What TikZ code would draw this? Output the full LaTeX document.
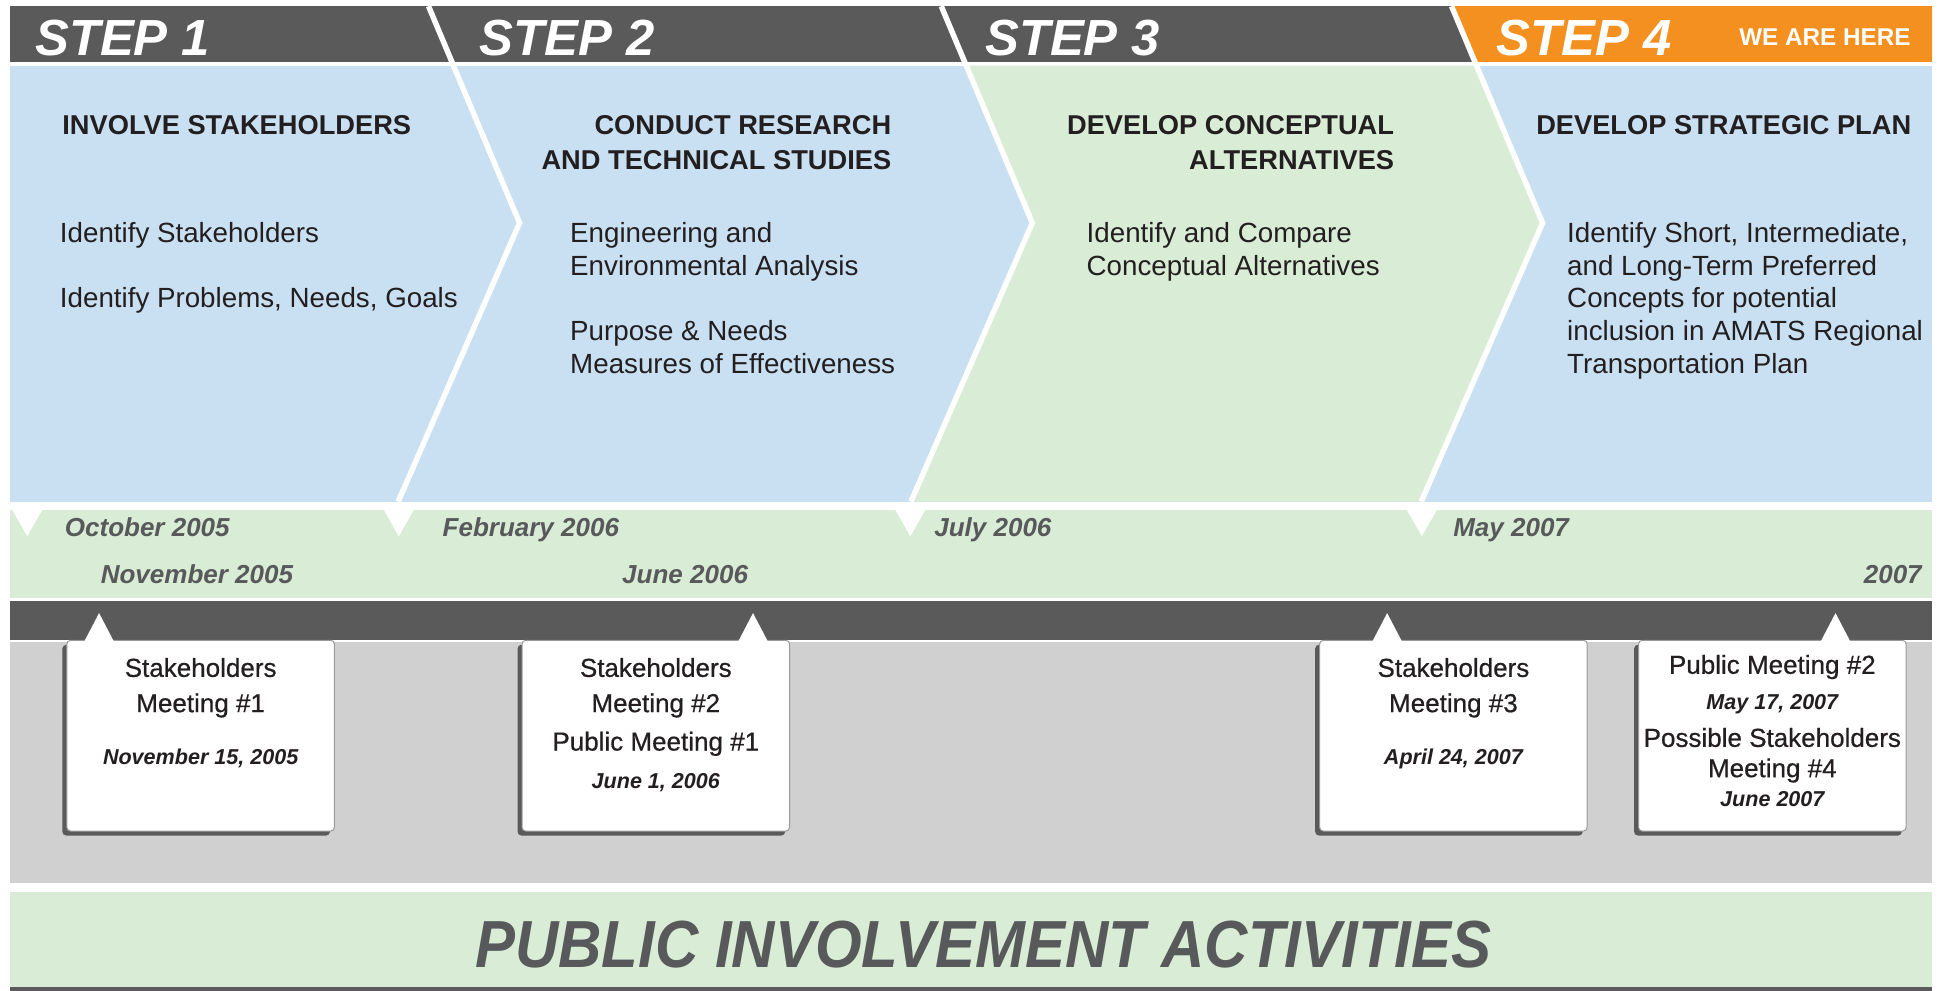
\documentclass[tikz,border=0pt]{standalone}
\usepackage{fontspec}
\setmainfont{Liberation Sans}
\newfontfamily\narrowfont[FakeStretch=0.9]{Liberation Sans}
\newfontfamily\meetfont[FakeBold=0.6]{Liberation Sans}
\usetikzlibrary{shadows}

\definecolor{stepblue}{RGB}{201,224,242}
\definecolor{stepgreen}{RGB}{217,236,214}
\definecolor{bardark}{RGB}{90,90,90}
\definecolor{nowOrange}{RGB}{244,144,32}
\definecolor{bandgray}{RGB}{208,208,208}
\definecolor{inkdark}{RGB}{35,31,32}
\definecolor{inkgray}{RGB}{88,89,91}

\tikzset{
  steptitle/.style={anchor=base west,inner sep=0pt,text=white,
    font=\fontsize{20.5}{24}\selectfont\bfseries\itshape},
  panelhead/.style={inner sep=0pt,text=inkdark,font=\fontsize{11}{14}\selectfont\bfseries},
  paneltext/.style={anchor=north west,align=left,inner sep=0pt,text=inkdark,
    font=\fontsize{11.2}{13.25}\selectfont},
  datelabel/.style={anchor=base west,inner sep=0pt,text=inkgray,
    font=\fontsize{10.5}{12}\selectfont\bfseries\itshape},
  callout/.style={fill=white,draw=black!40,line width=0.4pt,rounded corners=1.5pt,
    minimum width=108pt,minimum height=77pt,inner sep=0pt,
    drop shadow={shadow xshift=-1.8pt,shadow yshift=-1.8pt,opacity=1,fill=bardark}},
  meetname/.style={anchor=base,inner sep=0pt,text=inkdark,font=\meetfont\fontsize{10.5}{12}\selectfont},
  meetdate/.style={anchor=base,inner sep=0pt,text=inkdark,
    font=\fontsize{8.7}{10}\selectfont\bfseries\itshape},
  sepline/.style={white,line width=2.2pt},
}

\begin{document}
\begin{tikzpicture}[x=0.5pt,y=-0.5pt]
  \useasboundingbox (0,0) rectangle (1568,800);
  \fill[white] (0,0) rectangle (1568,800);

  % header and step panels
  \fill[bardark] (8,5) rectangle (1560,50);
  \fill[nowOrange] (1172,5) -- (1560,5) -- (1560,50) -- (1190.9,50) -- cycle;
  \fill[stepblue] (8,53) rectangle (1560,405);
  \fill[stepgreen] (780.2,53) -- (1192.2,53) -- (1245.5,180) -- (1147.5,405)
    -- (735.5,405) -- (833.5,180) -- cycle;
  \foreach \t in {346,760,1172}
    \draw[sepline] (\t,5) -- (\t+73.5,180) -- (\t-24.5,405);

  % time line
  \fill[stepgreen] (8,412) rectangle (1560,483);
  \foreach \nx in {22,322,735,1148}
    \fill[white] (\nx-12.5,411) -- (\nx,433) -- (\nx+12.5,411) -- cycle;
  \fill[bardark] (8,485) rectangle (1560,516.5);
  \fill[bandgray] (8,518.5) rectangle (1560,713);
  \fill[stepgreen] (8,720) rectangle (1560,797);
  \fill[bardark] (8,797) rectangle (1560,800);

  % meeting boxes
  \node[callout] (box1) at (162,594) {};
  \node[callout] (box2) at (529.5,594) {};
  \node[callout] (box3) at (1173.5,594) {};
  \node[callout] (box4) at (1431,594) {};
  \foreach \px in {80,608,1120,1482}
    \fill[white] (\px-12,518) -- (\px,495) -- (\px+12,518) -- cycle;

  \foreach \n/\sx in {1/28,2/387,3/795,4/1208}
    \node[steptitle] (step\n) at (\sx,44.4) {STEP \n};
  \node[anchor=base east,inner sep=0pt,text=white,font=\fontsize{9.8}{12}\selectfont\bfseries]
    (here) at (1543,36.5) {WE ARE HERE};

  \node[panelhead,anchor=north west] (head1) at (50,93) {INVOLVE STAKEHOLDERS};
  \node[panelhead,anchor=north east,align=right] (head2) at (720,93)
    {CONDUCT RESEARCH\\AND TECHNICAL STUDIES};
  \node[panelhead,anchor=north east,align=right] (head3) at (1126,93)
    {DEVELOP CONCEPTUAL\\ALTERNATIVES};
  \node[panelhead,anchor=north west] (head4) at (1240,93) {DEVELOP STRATEGIC PLAN};

  \node[paneltext] (body1) at (48,179)
    {Identify Stakeholders\\[13.25pt]Identify Problems, Needs, Goals};
  \node[paneltext] (body2) at (460,179)
    {Engineering and\\Environmental Analysis\\[13.25pt]Purpose \& Needs\\Measures of Effectiveness};
  \node[paneltext] (body3) at (877,179)
    {Identify and Compare\\Conceptual Alternatives};
  \node[paneltext] (body4) at (1265,179)
    {Identify Short, Intermediate,\\and Long-Term Preferred\\Concepts for potential\\inclusion in AMATS Regional\\Transportation Plan};

  \foreach \dx/\dy/\dtxt [count=\i] in {52/433.5/October 2005,357/433.5/February 2006,
      754/433.5/July 2006,1173/433.5/May 2007,81/471/November 2005,502/471/June 2006}
    \node[datelabel] (date\i) at (\dx,\dy) {\dtxt};
  \node[datelabel,anchor=base east] (date7) at (1552,471) {2007};

  \node[meetname] (m1a) at (162,546.5) {Stakeholders};
  \node[meetname] (m1b) at (162,575) {Meeting \#1};
  \node[meetdate] (m1c) at (162,617.5) {November 15, 2005};

  \node[meetname] (m2a) at (529.5,546.5) {Stakeholders};
  \node[meetname] (m2b) at (529.5,575) {Meeting \#2};
  \node[meetname] (m2c) at (529.5,606) {Public Meeting \#1};
  \node[meetdate] (m2d) at (529.5,637) {June 1, 2006};

  \node[meetname] (m3a) at (1173.5,546.5) {Stakeholders};
  \node[meetname] (m3b) at (1173.5,575) {Meeting \#3};
  \node[meetdate] (m3c) at (1173.5,617.5) {April 24, 2007};

  \node[meetname] (m4a) at (1431,544) {Public Meeting \#2};
  \node[meetdate] (m4b) at (1431,572.5) {May 17, 2007};
  \node[meetname] (m4c) at (1431,603) {Possible Stakeholders};
  \node[meetname] (m4d) at (1431,627.5) {Meeting \#4};
  \node[meetdate] (m4e) at (1431,651.5) {June 2007};

  \node[inner sep=0pt,anchor=base,text=inkgray,
    font=\narrowfont\fontsize{26.9}{30}\selectfont\bfseries\itshape]
    (title) at (794,781) {PUBLIC INVOLVEMENT ACTIVITIES};
\end{tikzpicture}
\end{document}
